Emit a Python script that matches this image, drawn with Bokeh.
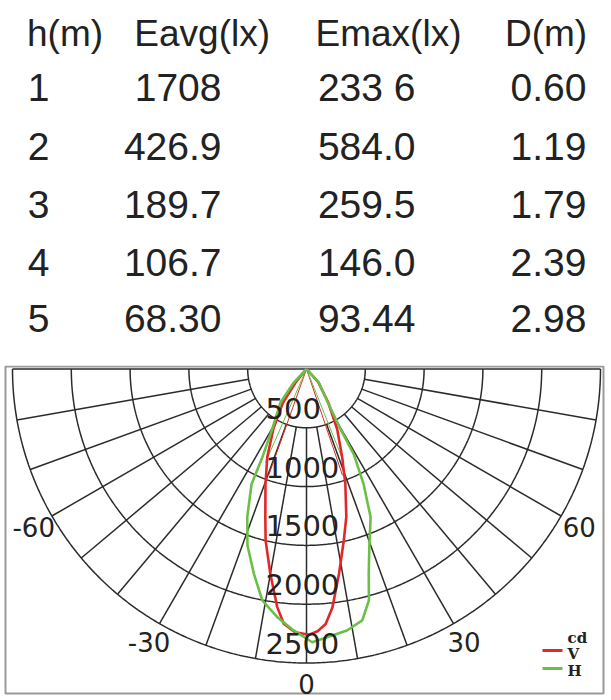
import math
from bokeh.plotting import figure
from bokeh.layouts import column
from bokeh.models import Range1d
from bokeh.core.properties import value
from bokeh.embed import file_html
from bokeh.resources import INLINE

# ---------------- table data ----------------
HEADERS = ["h(m)", "Eavg(lx)", "Emax(lx)", "D(m)"]
H_M = ["1", "2", "3", "4", "5"]
E_AVG = ["1708", "426.9", "189.7", "106.7", "68.30"]
E_MAX = ["233 6", "584.0", "259.5", "146.0", "93.44"]
D_M = ["0.60", "1.19", "1.79", "2.39", "2.98"]

# ---------------- polar data (angle in degrees from nadir, intensity in cd) ----------------
V_ANGLE = [-43, -39, -35, -29, -24, -19.6, -15.5, -13.4, -10.0, -7.0, -5.1, -2.5, 0.6,
           2.5, 4.3, 6.2, 9.0, 12.3, 15.1, 18.7, 22, 27, 33, 41.6, 45]
V_CD = [0, 150, 350, 580, 820, 1040, 1310, 1500, 1770, 2040, 2175, 2240, 2260,
        2230, 2175, 2040, 1765, 1490, 1300, 1030, 810, 575, 340, 150, 0]

H_ANGLE = [-48, -43.3, -37.8, -29.7, -26.5, -25.5, -21.8, -18.5, -14.4, -10.8, -6.7, -2.8, 1.2,
           4.4, 8.8, 12.5, 15.1, 16.9, 19.6, 23.4, 26.4, 29.0, 29.5, 32.4, 42.3, 48]
H_CD = [0, 158, 361, 589, 849, 1086, 1357, 1582, 1798, 2004, 2125, 2226, 2324,
        2287, 2250, 2190, 2038, 1820, 1594, 1373, 1090, 830, 587, 338, 155, 0]

THIN_V_ANGLE = [-19.6, 18.7]
THIN_V_CD = [960, 955]
THIN_H_ANGLE = [-23.7, 21.8]
THIN_H_CD = [870, 860]

RING_CD = [500, 1000, 1500, 2000, 2500]
RING_LABELS = ["500", "1000", "1500", "2000", "2500"]
SPOKE_ANGLES = [-80, -70, -60, -50, -40, -30, -20, -10, 0, 10, 20, 30, 40, 50, 60, 70, 80]
ANGLE_TICKS = [-60, -30, 0, 30, 60]
ANGLE_LABELS = ["-60", "-30", "0", "30", "60"]
LEGEND_NAMES = ["V", "H"]

# ---------------- layout constants (page pixels) ----------------
W = 608
SPLIT = 365.0                  # y where the table figure ends and the polar figure begins
PAGE_BOTTOM = 699.0
PX_PER_CD = 294.0 / 2500.0
CX, CY = 306.0, 368.5          # polar centre in page pixels

RED = "#e0282a"
GREEN = "#6cbf46"
INK = "#222222"
GRID = "#2b2b2b"


def px_to_x(px):
    return (px - CX) / PX_PER_CD


def px_to_y(py):
    return (CY - py) / PX_PER_CD


def polar(angles, cds):
    xs = [c * math.sin(math.radians(a)) for a, c in zip(angles, cds)]
    ys = [-c * math.cos(math.radians(a)) for a, c in zip(angles, cds)]
    return xs, ys


# ---------------- table figure ----------------
t = figure(width=W, height=int(SPLIT), x_range=Range1d(0, W), y_range=Range1d(SPLIT, 0),
           toolbar_location=None, output_backend="svg", x_axis_type=None, y_axis_type=None,
           min_border=0, outline_line_color=None)
t.grid.visible = False

HEAD_X = [64.5, 201.7, 388.0, 545.5]
HEAD_BASE = 33
ROW_BASE = [87, 146, 204, 262, 318]
font = value("Liberation Sans")

t.text(x=HEAD_X, y=[HEAD_BASE] * 4, text=HEADERS, text_align="center",
       text_baseline="alphabetic", text_font=font, text_font_size="37px", text_color=INK)
t.text(x=[38] * 5, y=ROW_BASE, text=H_M, text_align="center", text_baseline="alphabetic",
       text_font=font, text_font_size="39px", text_color=INK)
t.text(x=[221] * 5, y=ROW_BASE, text=E_AVG, text_align="right", text_baseline="alphabetic",
       text_font=font, text_font_size="39px", text_color=INK)
t.text(x=[415] * 5, y=ROW_BASE, text=E_MAX, text_align="right", text_baseline="alphabetic",
       text_font=font, text_font_size="39px", text_color=INK)
t.text(x=[586] * 5, y=ROW_BASE, text=D_M, text_align="right", text_baseline="alphabetic",
       text_font=font, text_font_size="39px", text_color=INK)

# ---------------- polar figure ----------------
p = figure(width=W, height=int(PAGE_BOTTOM - SPLIT),
           x_range=Range1d(px_to_x(0), px_to_x(W)),
           y_range=Range1d(px_to_y(PAGE_BOTTOM), px_to_y(SPLIT)),
           toolbar_location=None, output_backend="svg", x_axis_type=None, y_axis_type=None,
           min_border=0, outline_line_color=None)
p.grid.visible = False

# frame
p.quad(left=[px_to_x(5)], right=[px_to_x(603)], top=[px_to_y(366)], bottom=[px_to_y(693)],
       fill_color=None, line_color="#9a9a9a", line_width=2)

# rings
ring_xs, ring_ys = [], []
for r in RING_CD:
    angs = [a * 0.5 for a in range(-180, 181)]
    xs, ys = polar(angs, [r] * len(angs))
    ring_xs.append(xs)
    ring_ys.append(ys)
p.multi_line(ring_xs, ring_ys, line_color=GRID, line_width=1.5)

# spokes
sp_xs, sp_ys = [], []
for a in SPOKE_ANGLES:
    xs, ys = polar([a, a], [RING_CD[0], RING_CD[-1]])
    sp_xs.append(xs)
    sp_ys.append(ys)
xs, ys = polar([-90, 90], [RING_CD[-1], RING_CD[-1]])
sp_xs.append(xs)
sp_ys.append(ys)
p.multi_line(sp_xs, sp_ys, line_color=GRID, line_width=1.5)

# thin lines
for angs, cds, col in [(THIN_V_ANGLE, THIN_V_CD, RED), (THIN_H_ANGLE, THIN_H_CD, GREEN)]:
    mx, my = [], []
    for a, c in zip(angs, cds):
        xs, ys = polar([a, a], [0, c])
        mx.append(xs)
        my.append(ys)
    p.multi_line(mx, my, line_color=col, line_width=1)

# curves
vx, vy = polar(V_ANGLE, V_CD)
p.line(vx, vy, line_color=RED, line_width=2.6)
hx, hy = polar(H_ANGLE, H_CD)
p.line(hx, hy, line_color=GREEN, line_width=2.6)

# ring labels
p.text(x=[px_to_x(265)] * len(RING_CD), y=[-(r - 165) for r in RING_CD], text=RING_LABELS,
       text_align="left", text_baseline="middle", text_font=value("DejaVu Sans"),
       text_font_size="29px", text_color=INK)

# angle labels
LABEL_R = 315 / PX_PER_CD
lx, ly = polar(ANGLE_TICKS, [LABEL_R] * len(ANGLE_TICKS))
p.text(x=lx, y=ly, text=ANGLE_LABELS, text_align="center", text_baseline="middle",
       text_font=value("DejaVu Sans"), text_font_size="26px", text_color=INK)

# legend
p.segment(x0=[px_to_x(542)] * 2, y0=[px_to_y(650), px_to_y(668)],
          x1=[px_to_x(562)] * 2, y1=[px_to_y(650), px_to_y(668)],
          line_color=[RED, GREEN], line_width=3)
p.text(x=[px_to_x(567)] * 3, y=[px_to_y(637), px_to_y(653), px_to_y(670)],
       text=["cd"] + LEGEND_NAMES, text_align="left", text_baseline="alphabetic",
       text_font=value("DejaVu Serif"), text_font_style="bold", text_font_size="15px",
       text_color=INK)

layout = column(t, p, spacing=0)
open("out.html", "w").write(file_html(layout, INLINE))
